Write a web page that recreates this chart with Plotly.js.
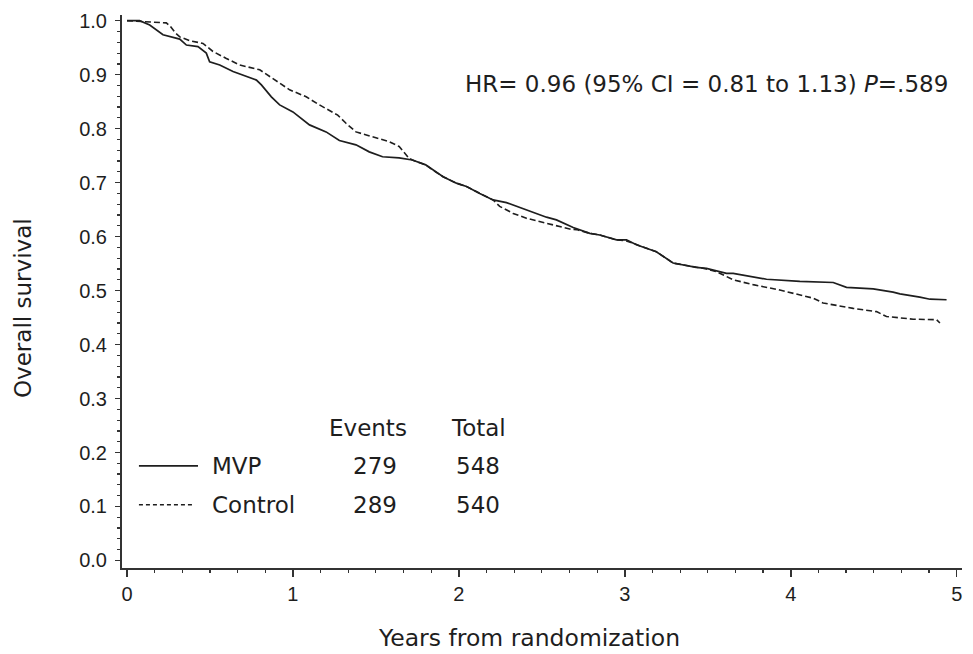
<!DOCTYPE html>
<html>
<head>
<meta charset="utf-8">
<script src="https://cdn.plot.ly/plotly-3.0.1.min.js"></script>
<style>html,body{margin:0;padding:0;background:#fff;}#chart{width:973px;height:654px;}</style>
</head>
<body>
<div id="chart"></div>
<script>
// Kaplan-Meier curves (years, survival proportion)
var mvpYears = [0, 0.076, 0.137, 0.217, 0.318, 0.358, 0.428, 0.478, 0.498, 0.559, 0.639, 0.699, 0.78, 0.81, 0.87, 0.92, 1.0, 1.10, 1.20, 1.28, 1.38, 1.46, 1.54, 1.64, 1.72, 1.80, 1.845, 1.905, 1.985, 2.046, 2.126, 2.206, 2.287, 2.367, 2.447, 2.528, 2.588, 2.689, 2.789, 2.849, 2.95, 3.01, 3.07, 3.131, 3.19, 3.291, 3.43, 3.492, 3.613, 3.653, 3.854, 4.055, 4.256, 4.336, 4.497, 4.617, 4.658, 4.778, 4.839, 4.939];
var mvpSurv  = [1.0, 1.0, 0.992, 0.974, 0.966, 0.955, 0.952, 0.94, 0.924, 0.918, 0.906, 0.899, 0.89, 0.881, 0.859, 0.844, 0.831, 0.807, 0.794, 0.778, 0.77, 0.757, 0.748, 0.746, 0.742, 0.733, 0.723, 0.711, 0.699, 0.693, 0.680, 0.668, 0.663, 0.654, 0.644, 0.636, 0.631, 0.617, 0.606, 0.603, 0.594, 0.594, 0.585, 0.578, 0.572, 0.551, 0.543, 0.541, 0.532, 0.532, 0.521, 0.517, 0.515, 0.506, 0.503, 0.497, 0.494, 0.488, 0.484, 0.483];

var ctrlYears = [0, 0.15, 0.237, 0.26, 0.29, 0.318, 0.378, 0.458, 0.518, 0.599, 0.679, 0.80, 0.88, 0.98, 1.08, 1.16, 1.27, 1.32, 1.38, 1.48, 1.58, 1.64, 1.70, 1.72, 1.80, 1.845, 1.905, 1.985, 2.046, 2.126, 2.206, 2.246, 2.327, 2.407, 2.488, 2.588, 2.668, 2.71, 2.789, 2.849, 2.95, 3.01, 3.07, 3.131, 3.19, 3.291, 3.43, 3.492, 3.553, 3.653, 3.773, 3.934, 4.135, 4.195, 4.376, 4.517, 4.577, 4.738, 4.879, 4.899];
var ctrlSurv  = [1.0, 0.997, 0.996, 0.99, 0.978, 0.970, 0.963, 0.958, 0.943, 0.930, 0.918, 0.909, 0.893, 0.872, 0.859, 0.844, 0.825, 0.81, 0.794, 0.785, 0.776, 0.767, 0.745, 0.742, 0.733, 0.723, 0.711, 0.699, 0.693, 0.680, 0.668, 0.656, 0.643, 0.634, 0.628, 0.620, 0.614, 0.613, 0.606, 0.603, 0.594, 0.592, 0.585, 0.578, 0.572, 0.551, 0.543, 0.540, 0.535, 0.520, 0.511, 0.501, 0.486, 0.477, 0.467, 0.461, 0.452, 0.447, 0.446, 0.440];

var groupNames = ["MVP", "Control"];
var groupEvents = ["279", "289"];
var groupTotals = ["548", "540"];
var xTickVals = [0, 1, 2, 3, 4, 5];
var xTitle = "Years from randomization";
var yTitle = "Overall survival";
var hrText = "HR= 0.96 (95% CI = 0.81 to 1.13) <i>P</i>=.589";

var ink = "#1e1e1e";
var axisInk = "#333333";
var annFont = {family: "DejaVu Sans, Verdana, sans-serif", size: 23, color: ink};
var titleFont = {family: "DejaVu Sans, Verdana, sans-serif", size: 23.5, color: ink};

var traces = [
  {x: mvpYears, y: mvpSurv, mode: "lines", line: {shape: "linear", color: ink, width: 1.7}, name: groupNames[0], hoverinfo: "skip"},
  {x: ctrlYears, y: ctrlSurv, mode: "lines", line: {shape: "linear", color: ink, width: 1.6, dash: "6px,3px"}, name: groupNames[1], hoverinfo: "skip"}
];

var rowY = [0.1754, 0.103];
var annotations = [
  {x: 4.959, y: 0.883, xref: "x", yref: "y", xanchor: "right", yanchor: "middle", text: hrText, showarrow: false, font: annFont},
  {x: 1.451, y: 0.245, xref: "x", yref: "y", xanchor: "center", yanchor: "middle", text: "Events", showarrow: false, font: annFont},
  {x: 2.12, y: 0.245, xref: "x", yref: "y", xanchor: "center", yanchor: "middle", text: "Total", showarrow: false, font: annFont},
  // axis titles
  {x: 0.4845, y: -0.1266, xref: "paper", yref: "paper", xanchor: "center", yanchor: "middle", text: xTitle, showarrow: false, font: titleFont},
  {x: -0.1185, y: 0.471, xref: "paper", yref: "paper", xanchor: "center", yanchor: "middle", text: yTitle, textangle: -90, showarrow: false, font: annFont}
];
var shapes = [];
for (var i = 0; i < groupNames.length; i++) {
  annotations.push({x: 0.503, y: rowY[i], xref: "x", yref: "y", xanchor: "left", yanchor: "middle", text: groupNames[i], showarrow: false, font: annFont});
  annotations.push({x: 1.493, y: rowY[i], xref: "x", yref: "y", xanchor: "center", yanchor: "middle", text: groupEvents[i], showarrow: false, font: annFont});
  annotations.push({x: 2.114, y: rowY[i], xref: "x", yref: "y", xanchor: "center", yanchor: "middle", text: groupTotals[i], showarrow: false, font: annFont});
  shapes.push({type: "line", xref: "x", yref: "y", x0: 0.072, x1: i === 0 ? 0.428 : 0.408, y0: rowY[i], y1: rowY[i],
    line: {color: ink, width: i === 0 ? 1.7 : 1.5, dash: i === 0 ? "solid" : "4px,3px"}});
}

var layout = {
  width: 973, height: 654,
  margin: {l: 122, r: 11, t: 15, b: 86},
  paper_bgcolor: "#fff", plot_bgcolor: "#fff",
  showlegend: false,
  xaxis: {
    range: [-0.03, 5.032], tickvals: xTickVals, ticks: "outside", ticklen: 7, tickwidth: 1.5, tickcolor: axisInk,
    showline: true, linewidth: 2, linecolor: axisInk, showgrid: false, zeroline: false,
    minor: {dtick: 1/6, tick0: 0, ticks: "outside", ticklen: 3, tickwidth: 1.2, tickcolor: axisInk, showgrid: false},
    tickfont: {family: "Liberation Sans, Arial, sans-serif", size: 20, color: ink},
    fixedrange: true
  },
  yaxis: {
    range: [-0.014, 1.0106], dtick: 0.1, tick0: 0, tickformat: ".1f", ticks: "outside", ticklen: 5, tickwidth: 1.5, tickcolor: axisInk,
    showline: true, linewidth: 2, linecolor: axisInk, showgrid: false, zeroline: false,
    minor: {dtick: 0.02, tick0: 0, ticks: "outside", ticklen: 3, tickwidth: 1.2, tickcolor: axisInk, showgrid: false},
    tickfont: {family: "Liberation Sans, Arial, sans-serif", size: 20, color: ink},
    ticklabelstandoff: 4,
    fixedrange: true
  },
  annotations: annotations,
  shapes: shapes
};

Plotly.newPlot("chart", traces, layout, {displayModeBar: false, staticPlot: true});
</script>
</body>
</html>
